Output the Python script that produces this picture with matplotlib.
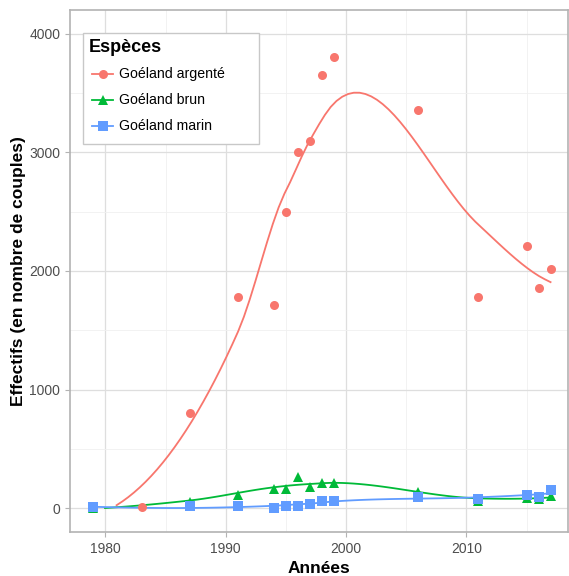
import numpy as np
import matplotlib.pyplot as plt
from matplotlib.lines import Line2D
from matplotlib.patches import Rectangle

plt.rcParams['font.family'] = ['Liberation Sans', 'DejaVu Sans']

# Données
annees_argente = [1979, 1983, 1987, 1991, 1994, 1995, 1996, 1997, 1998, 1999, 2006, 2011, 2015, 2016, 2017]
argente = [0, 10, 800, 1780, 1710, 2500, 3000, 3100, 3650, 3800, 3360, 1780, 2210, 1860, 2020]

annees_brun = [1979, 1987, 1991, 1994, 1995, 1996, 1997, 1998, 1999, 2006, 2011, 2015, 2016, 2017]
brun = [0, 50, 110, 165, 165, 265, 180, 210, 210, 135, 60, 90, 75, 100]

annees_marin = [1979, 1987, 1991, 1994, 1995, 1996, 1997, 1998, 1999, 2006, 2011, 2015, 2016, 2017]
marin = [10, 15, 15, 5, 22, 22, 40, 65, 65, 95, 80, 110, 95, 150]

especes = ['Goéland argenté', 'Goéland brun', 'Goéland marin']
couleurs = ['#F8766D', '#00BA38', '#619CFF']
marqueurs = ['o', '^', 's']

W, H = 569, 576


def fit_local(x, y, x0, q):
    # regression locale de degre 2, poids tricube -> valeur et pente en x0
    d = np.abs(x - x0)
    h = np.sort(d)[q - 1]
    w = np.clip(1 - (d / h) ** 3, 0, None) ** 3
    X = np.column_stack([np.ones(len(x)), x - x0, (x - x0) ** 2])
    sw = np.sqrt(w)
    beta = np.linalg.lstsq(X * sw[:, None], y * sw, rcond=None)[0]
    return beta[0], beta[1]


def sommets_kd(x, fc):
    # decoupage kd comme loess (R) : mediane, cellules de fc points max
    xs = np.sort(x)
    marge = 0.005 * (xs[-1] - xs[0])
    verts = {xs[0] - marge, xs[-1] + marge}

    def split(l, u):
        if u - l + 1 <= fc:
            return
        m = (l + u) // 2
        verts.add(xs[m])
        split(l, m)
        split(m + 1, u)

    split(0, len(xs) - 1)
    return np.array(sorted(verts))


def loess(x, y, xs, span=0.75, cell=0.2):
    x = np.asarray(x, float)
    y = np.asarray(y, float)
    n = len(x)
    q = int(np.floor(n * span))
    fc = int(np.floor(n * span * cell))
    v = sommets_kd(x, fc)
    vals = np.array([fit_local(x, y, vv, q) for vv in v])
    out = []
    for x0 in xs:
        i = min(np.searchsorted(v, x0, side='right') - 1, len(v) - 2)
        a, b = v[i], v[i + 1]
        hh = b - a
        t = (x0 - a) / hh
        h00 = 2 * t**3 - 3 * t**2 + 1
        h10 = t**3 - 2 * t**2 + t
        h01 = -2 * t**3 + 3 * t**2
        h11 = t**3 - t**2
        out.append(h00 * vals[i, 0] + h10 * hh * vals[i, 1] + h01 * vals[i + 1, 0] + h11 * hh * vals[i + 1, 1])
    return np.array(out)


fig = plt.figure(figsize=(W / 100, H / 100), dpi=100)
ax = fig.add_axes([70 / W, 1 - 532 / H, 498 / W, 522 / H])

series = [(annees_argente, argente), (annees_brun, brun), (annees_marin, marin)]
for (xa, ya), c, m in zip(series, couleurs, marqueurs):
    xs = np.linspace(min(xa), max(xa), 80)
    ys = loess(xa, ya, xs)
    ys = np.where(ys < 0, np.nan, ys)
    ax.plot(xs, ys, color=c, lw=1.3, zorder=3)
    ax.plot(xa, ya, linestyle='none', marker=m, color=c, ms=6.5 if m != '^' else 7.5,
            markeredgewidth=0, zorder=4)

ax.set_xlim(1977.05, 2018.45)
ax.set_ylim(-200, 4200)
ax.set_xticks([1980, 1990, 2000, 2010])
ax.set_xticks([1985, 1995, 2005, 2015], minor=True)
ax.set_yticks([0, 1000, 2000, 3000, 4000])
ax.set_yticks([500, 1500, 2500, 3500], minor=True)
ax.grid(True, which='major', color='#DEDEDE', lw=0.9)
ax.grid(True, which='minor', color='#F0F0F0', lw=0.6)
ax.set_axisbelow(True)
for s in ax.spines.values():
    s.set_color('#B3B3B3')
    s.set_linewidth(1.2)
ax.tick_params(which='major', colors='#B3B3B3', length=3.5, width=0.8, labelcolor='#4D4D4D', labelsize=10)
ax.tick_params(which='minor', length=0)

ax.set_xlabel('Années', fontsize=12.5, fontweight='bold', labelpad=4)
ax.set_ylabel('Effectifs (en nombre de couples)', fontsize=12.5, fontweight='bold', labelpad=2)

# légende dessinée à la main (cadre large comme dans ggplot)
fig.add_artist(Rectangle((83 / W, 1 - 144 / H), 176 / W, 111 / H, transform=fig.transFigure,
                         facecolor='white', edgecolor='#C8C8C8', lw=1.0, zorder=5))
fig.text(89 / W, 1 - 48 / H, 'Espèces', fontsize=13, fontweight='bold', va='center', ha='left', zorder=6)
for k, (nom, c, m) in enumerate(zip(especes, couleurs, marqueurs)):
    yk = 1 - (74 + 26 * k) / H
    fig.add_artist(Line2D([92 / W, 113 / W], [yk, yk], transform=fig.transFigure, color=c, lw=1.3, zorder=6))
    fig.add_artist(Line2D([102.5 / W], [yk], transform=fig.transFigure, color=c, marker=m,
                          ms=6.5, markeredgewidth=0, zorder=7))
    fig.text(119 / W, yk, nom, fontsize=10.2, va='center', ha='left', zorder=6)

fig.savefig('out.png', dpi=100)
